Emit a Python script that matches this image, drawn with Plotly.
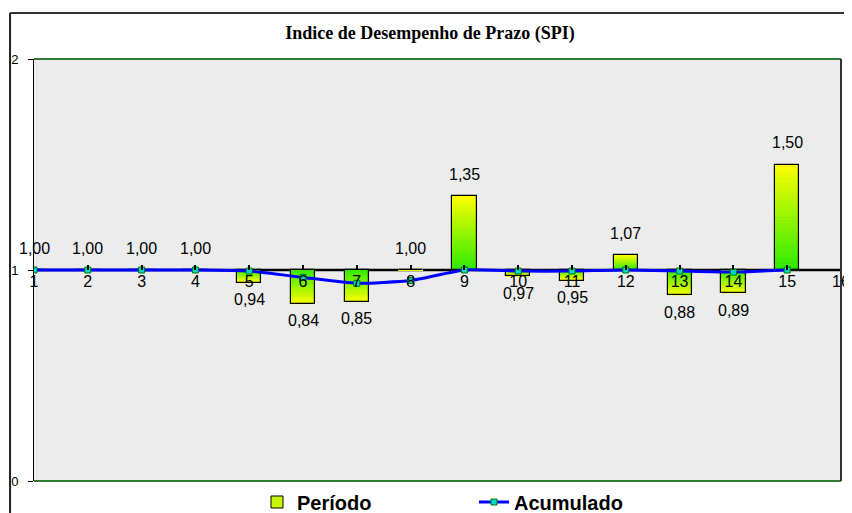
import plotly.graph_objects as go

# SPI por período e acumulado
categories = list(range(1, 16))
periodo = [1.00, 1.00, 1.00, 1.00, 0.94, 0.84, 0.85, 1.00, 1.35, 0.97, 0.95, 1.07, 0.88, 0.89, 1.50]
acumulado = [1.00, 1.00, 1.00, 1.00, 0.995, 0.965, 0.937, 0.95, 1.00, 0.995, 0.995, 1.00, 0.995, 0.99, 1.00]
x_ticks = list(range(1, 17))
y_ticks = [0, 1, 2]

base = 1.0
n_steps = 40
bar_width = 0.45
green = (40, 235, 0)
yellow = (255, 255, 0)
font_family = "Liberation Sans, Arial, sans-serif"

# the page body adds an 8px offset, so the figure is drawn 8px smaller
W, H = 844, 505


def blend(t):
    r, g, b = [round(green[i] + (yellow[i] - green[i]) * t) for i in range(3)]
    return f"rgb({r},{g},{b})"


fig = go.Figure()

# legend entry (filled bar underneath the gradient)
fig.add_trace(go.Bar(
    x=categories, y=[v - base for v in periodo], base=base, width=bar_width,
    marker=dict(color="#c8f500", line=dict(color="black", width=1)),
    name="Período", hoverinfo="skip"))

# gradient: green near the axis, yellow at the end of the bar
for k in range(n_steps):
    col = blend((k + 0.5) / n_steps)
    fig.add_trace(go.Bar(
        x=categories,
        y=[(v - base) / n_steps for v in periodo],
        base=[base + (v - base) * k / n_steps for v in periodo],
        width=bar_width,
        marker=dict(color=col, line=dict(color=col, width=0.5)),
        showlegend=False, hoverinfo="skip"))

# outline on top
fig.add_trace(go.Bar(
    x=categories, y=[v - base for v in periodo], base=base, width=bar_width,
    marker=dict(color="rgba(0,0,0,0)", line=dict(color="black", width=1.2)),
    showlegend=False, hoverinfo="skip"))

fig.add_trace(go.Scatter(
    x=categories, y=acumulado, mode="lines+markers", name="Acumulado",
    line=dict(color="#0000ff", width=3, shape="spline", smoothing=0.5),
    marker=dict(symbol="square", size=6, color="#00d8c8", line=dict(color="#007a00", width=1))))

# data labels
for x, v in zip(categories, periodo):
    fig.add_annotation(
        x=x, y=v, text=f"{v:.2f}".replace(".", ","), showarrow=False,
        yanchor="middle", yshift=22 if v >= base else -17,
        font=dict(family=font_family, size=16, color="black"))

fig.update_layout(
    width=W, height=H,
    margin=dict(l=26, r=11, t=51, b=32),
    paper_bgcolor="white",
    plot_bgcolor="#ececec",
    barmode="overlay",
    bargap=0,
    font=dict(family=font_family, color="black"),
    title=dict(
        text="<b>Indice de Desempenho de Prazo (SPI)</b>",
        font=dict(family="Liberation Serif, Times New Roman, serif", size=18, color="black"),
        x=422 / W, xanchor="center", y=1 - 25 / H, yanchor="middle"),
    legend=dict(
        orientation="h", xref="container", yref="container",
        x=249 / W, xanchor="left", y=1 - 494 / H, yanchor="middle",
        font=dict(family=font_family, size=20, color="black", weight="bold"),
        entrywidth=172, bgcolor="rgba(0,0,0,0)", traceorder="normal"),
    xaxis=dict(
        range=[1, 16], tickvals=x_ticks, ticktext=[str(t) for t in x_ticks],
        anchor="free", position=0.5, showline=False, showgrid=False, zeroline=False,
        ticks="inside", ticklen=5, tickwidth=2, tickcolor="black",
        tickfont=dict(family=font_family, size=16, color="black"),
        automargin=False),
    yaxis=dict(
        range=[0, 2], tickvals=y_ticks, showgrid=False, zeroline=False,
        showline=True, linecolor="black", linewidth=1,
        ticks="outside", ticklen=5, tickcolor="black", ticklabelstandoff=7,
        tickfont=dict(family=font_family, size=13, color="black"),
        automargin=False),
    shapes=[
        # axis line at SPI = 1, below the traces
        dict(type="line", xref="paper", x0=0, x1=1, yref="y", y0=base, y1=base,
             line=dict(color="black", width=2.5), layer="below"),
        # plot area frame
        dict(type="line", xref="paper", yref="paper", x0=0, x1=1, y0=1, y1=1,
             line=dict(color="#2e7d32", width=2)),
        dict(type="line", xref="paper", yref="paper", x0=0, x1=1, y0=0, y1=0,
             line=dict(color="#2e7d32", width=2)),
        dict(type="line", xref="paper", yref="paper", x0=1, x1=1, y0=0, y1=1,
             line=dict(color="#333333", width=2)),
        # chart frame
        dict(type="line", xref="paper", yref="paper", x0=-0.0297, x1=-0.0297, y0=-0.2, y1=1.109,
             line=dict(color="#222222", width=2)),
        dict(type="line", xref="paper", yref="paper", x0=-0.0297, x1=1.05, y0=1.109, y1=1.109,
             line=dict(color="#333333", width=2)),
    ],
)

fig.write_html("out.html")
